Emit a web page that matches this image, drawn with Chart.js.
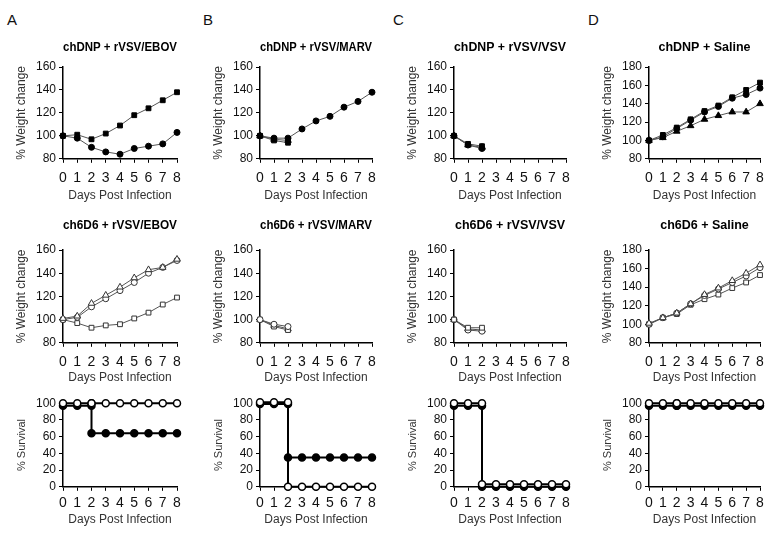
<!DOCTYPE html>
<html><head><meta charset="utf-8">
<script src="https://cdn.jsdelivr.net/npm/chart.js@4"></script>
<style>
html,body{margin:0;padding:0;background:#fff;}
body{width:775px;height:535px;position:relative;overflow:hidden;font-family:"Liberation Sans",Arial,sans-serif;}
canvas{position:absolute;}
.letter{position:absolute;font-size:15px;line-height:15px;color:#111;}
</style></head><body>
<div class="letter" style="left:7px;top:12px">A</div>
<div class="letter" style="left:203px;top:12px">B</div>
<div class="letter" style="left:393px;top:12px">C</div>
<div class="letter" style="left:588px;top:12px">D</div>
<script>
// ---------- data ----------
const days = [0,1,2,3,4,5,6,7,8];
const survDays = [0,1,2,2,3,4,5,6,7,8];

const titlesTop = ['chDNP + rVSV/EBOV','chDNP + rVSV/MARV','chDNP + rVSV/VSV','chDNP + Saline'];
const titlesMid = ['ch6D6 + rVSV/EBOV','ch6D6 + rVSV/MARV','ch6D6 + rVSV/VSV','ch6D6 + Saline'];
const xTitle = 'Days Post Infection';
const weightTitle = '% Weight change';
const survTitle = '% Survival';
const weightRange = [80,160,20];
const salineRange = [80,180,20];
const survRange = [0,100,20];

// chDNP weight change (filled markers)
const dnpEbovSquare   = [100,101,97,102,109,118,124,131,138];
const dnpEbovCircle   = [100,98,90,86,84,89,91,93,103];
const dnpMarvCircle   = [100,98,98,106,113,117,125,130,138];
const dnpMarvSquare   = [100,96,94];
const dnpMarvTriangle = [100,97,96];
const dnpVsvCircle    = [100,92,89];
const dnpVsvSquare    = [100,93,91];
const dnpVsvTriangle  = [100,92,90];
const dnpSalSquare    = [100,106,114,123,132,138,147,155,163];
const dnpSalCircle    = [100,104,113,122,131,137,146,150,157];
const dnpSalTriangle  = [100,103,110,116,123,127,131,131,140];

// ch6D6 weight change (open markers)
const d6EbovTriangle = [101,103,114,121,128,136,143,145,152];
const d6EbovCircle   = [100,102,111,118,125,132,140,145,151];
const d6EbovSquare   = [100,97,93,95,96,101,106,113,119];
const d6MarvCircle   = [100,96,94];
const d6MarvSquare   = [100,94,91];
const d6MarvTriangle = [100,95,92];
const d6VsvSquare    = [100,93,93];
const d6VsvCircle    = [100,91,90];
const d6VsvTriangle  = [100,92,91];
const d6SalTriangle  = [101,107,112,122,132,139,147,155,164];
const d6SalCircle    = [100,107,112,122,131,138,145,152,161];
const d6SalSquare    = [100,107,111,121,127,132,139,145,153];

// survival (filled = chDNP, open = ch6D6)
const survEbovDnp = [97,97,97,64,64,64,64,64,64,64];
const survEbovD6  = [100,100,100,100,100,100,100,100,100,100];
const survMarvDnp = [99,99,99,35,35,35,35,35,35,35];
const survMarvD6  = [101,101,101,0,0,0,0,0,0,0];
const survVsvDnp  = [97,97,97,0,0,0,0,0,0,0];
const survVsvD6   = [100,100,100,3,3,3,3,3,3,3];
const survSalDnp  = [97,97,97,97,97,97,97,97,97,97];
const survSalD6   = [100,100,100,100,100,100,100,100,100,100];

// ---------- layout ----------
const FONT = '"Liberation Sans", Arial, sans-serif';
const cols = [{l:63,r:177},{l:260,r:372},{l:454,r:566},{l:649,r:760}];
const rows = [
  {title:47,  top:67,  bottom:159, xtitle:196, tickPad:6.5},
  {title:225, top:250, bottom:343, xtitle:378, tickPad:6.5},
  {title:null,top:403, bottom:487, xtitle:520, tickPad:3.5}
];
const YW = 60, PR = 12;

const filledStyle = {borderColor:'#555', borderWidth:1, pointRadius:3, pointBackgroundColor:'#000', pointBorderColor:'#000', pointBorderWidth:1};
const openStyle   = {borderColor:'#555', borderWidth:1, pointRadius:3, pointBackgroundColor:'#fff', pointBorderColor:'#333', pointBorderWidth:1};
const survFilled  = {borderColor:'#000', borderWidth:2, pointRadius:3.5, pointBackgroundColor:'#000', pointBorderColor:'#000', pointBorderWidth:1.5};
const survOpen    = {borderColor:'#000', borderWidth:2, pointRadius:3.5, pointBackgroundColor:'#fff', pointBorderColor:'#000', pointBorderWidth:1.5};

function ser(xs, ys, style, shape) {
  const r = shape === 'triangle' ? style.pointRadius + 0.8 : (shape === 'rect' ? style.pointRadius + 0.4 : style.pointRadius);
  return Object.assign({}, style, {
    data: ys.map((y,i)=>({x:xs[i], y:y})),
    pointStyle: shape, pointRadius: r, tension:0, clip:false, fill:false
  });
}

function makeChart(ci, ri, title, yTitle, range, datasets) {
  const c = cols[ci], r = rows[ri];
  const TFS = 12.5, TPT = 4, TLH = TFS*1.2;
  let canvasTop, titlePb = 0, padTop = 0;
  if (r.title != null) {
    canvasTop = Math.round(r.title - TPT - TLH/2);
    titlePb = r.top - canvasTop - TPT - TLH;
  } else {
    canvasTop = r.top - 10; padTop = 10;
  }
  const XTP = 2, XTLH = 12*1.2;
  const XH = r.xtitle - r.bottom + XTLH/2 + XTP;
  const left = c.l - YW;
  const W = Math.round(c.r - c.l + YW + PR);
  const H = Math.round(r.bottom + XH - canvasTop);
  const cv = document.createElement('canvas');
  cv.width = W; cv.height = H;
  cv.style.left = left + 'px'; cv.style.top = canvasTop + 'px';
  cv.style.width = W + 'px'; cv.style.height = H + 'px';
  document.body.appendChild(cv);
  const yFont = yTitle === survTitle ? 11 : 12;
  new Chart(cv, {
    type:'line',
    data:{datasets:datasets},
    options:{
      responsive:false, animation:false, events:[], devicePixelRatio: window.devicePixelRatio || 1,
      layout:{autoPadding:false, padding:{left:0,right:PR,top:padTop,bottom:0}},
      plugins:{
        legend:{display:false}, tooltip:{enabled:false},
        title:{display: title != null, text: title || '', fullSize:false, color:'#000',
               font:{family:FONT, size:TFS, weight:'bold'}, padding:{top:TPT, bottom:titlePb}}
      },
      scales:{
        x:{type:'linear', min:0, max:8,
           ticks:{stepSize:1, autoSkip:false, maxRotation:0, font:{family:FONT,size:14}, color:'#111', padding:r.tickPad},
           grid:{drawOnChartArea:false, drawTicks:true, tickLength:4, color:'#000', lineWidth:1},
           border:{display:true, color:'#000', width:1.5},
           title:{display:true, text:xTitle, color:'#333', font:{family:FONT,size:12}, padding:{top:0,bottom:XTP}},
           afterFit:(s)=>{ s.height = XH; }
        },
        y:{type:'linear', min:range[0], max:range[1],
           ticks:{stepSize:range[2], autoSkip:false, font:{family:FONT,size:12}, color:'#111', padding:3},
           grid:{drawOnChartArea:false, drawTicks:true, tickLength:4, color:'#000', lineWidth:1},
           border:{display:true, color:'#000', width:1.5},
           title:{display:true, text:yTitle, color:'#333', font:{family:FONT,size:yFont}, padding:{top: 19 - yFont*0.6, bottom:0}},
           afterFit:(s)=>{ s.width = YW; }
        }
      }
    }
  });
}

const F = filledStyle, O = openStyle;
// Row 1: chDNP weight
makeChart(0,0,titlesTop[0],weightTitle,weightRange,[ser(days,dnpEbovSquare,F,'rect'),ser(days,dnpEbovCircle,F,'circle')]);
makeChart(1,0,titlesTop[1],weightTitle,weightRange,[ser(days,dnpMarvCircle,F,'circle'),ser(days,dnpMarvSquare,F,'rect'),ser(days,dnpMarvTriangle,F,'triangle')]);
makeChart(2,0,titlesTop[2],weightTitle,weightRange,[ser(days,dnpVsvCircle,F,'circle'),ser(days,dnpVsvSquare,F,'rect'),ser(days,dnpVsvTriangle,F,'triangle')]);
makeChart(3,0,titlesTop[3],weightTitle,salineRange,[ser(days,dnpSalSquare,F,'rect'),ser(days,dnpSalCircle,F,'circle'),ser(days,dnpSalTriangle,F,'triangle')]);
// Row 2: ch6D6 weight
makeChart(0,1,titlesMid[0],weightTitle,weightRange,[ser(days,d6EbovTriangle,O,'triangle'),ser(days,d6EbovCircle,O,'circle'),ser(days,d6EbovSquare,O,'rect')]);
makeChart(1,1,titlesMid[1],weightTitle,weightRange,[ser(days,d6MarvCircle,O,'circle'),ser(days,d6MarvSquare,O,'rect'),ser(days,d6MarvTriangle,O,'triangle')]);
makeChart(2,1,titlesMid[2],weightTitle,weightRange,[ser(days,d6VsvSquare,O,'rect'),ser(days,d6VsvCircle,O,'circle'),ser(days,d6VsvTriangle,O,'triangle')]);
makeChart(3,1,titlesMid[3],weightTitle,salineRange,[ser(days,d6SalTriangle,O,'triangle'),ser(days,d6SalCircle,O,'circle'),ser(days,d6SalSquare,O,'rect')]);
// Row 3: survival
makeChart(0,2,null,survTitle,survRange,[ser(survDays,survEbovD6,survOpen,'circle'),ser(survDays,survEbovDnp,survFilled,'circle')]);
makeChart(1,2,null,survTitle,survRange,[ser(survDays,survMarvD6,survOpen,'circle'),ser(survDays,survMarvDnp,survFilled,'circle')]);
makeChart(2,2,null,survTitle,survRange,[ser(survDays,survVsvD6,survOpen,'circle'),ser(survDays,survVsvDnp,survFilled,'circle')]);
makeChart(3,2,null,survTitle,survRange,[ser(survDays,survSalD6,survOpen,'circle'),ser(survDays,survSalDnp,survFilled,'circle')]);
</script>
</body></html>
